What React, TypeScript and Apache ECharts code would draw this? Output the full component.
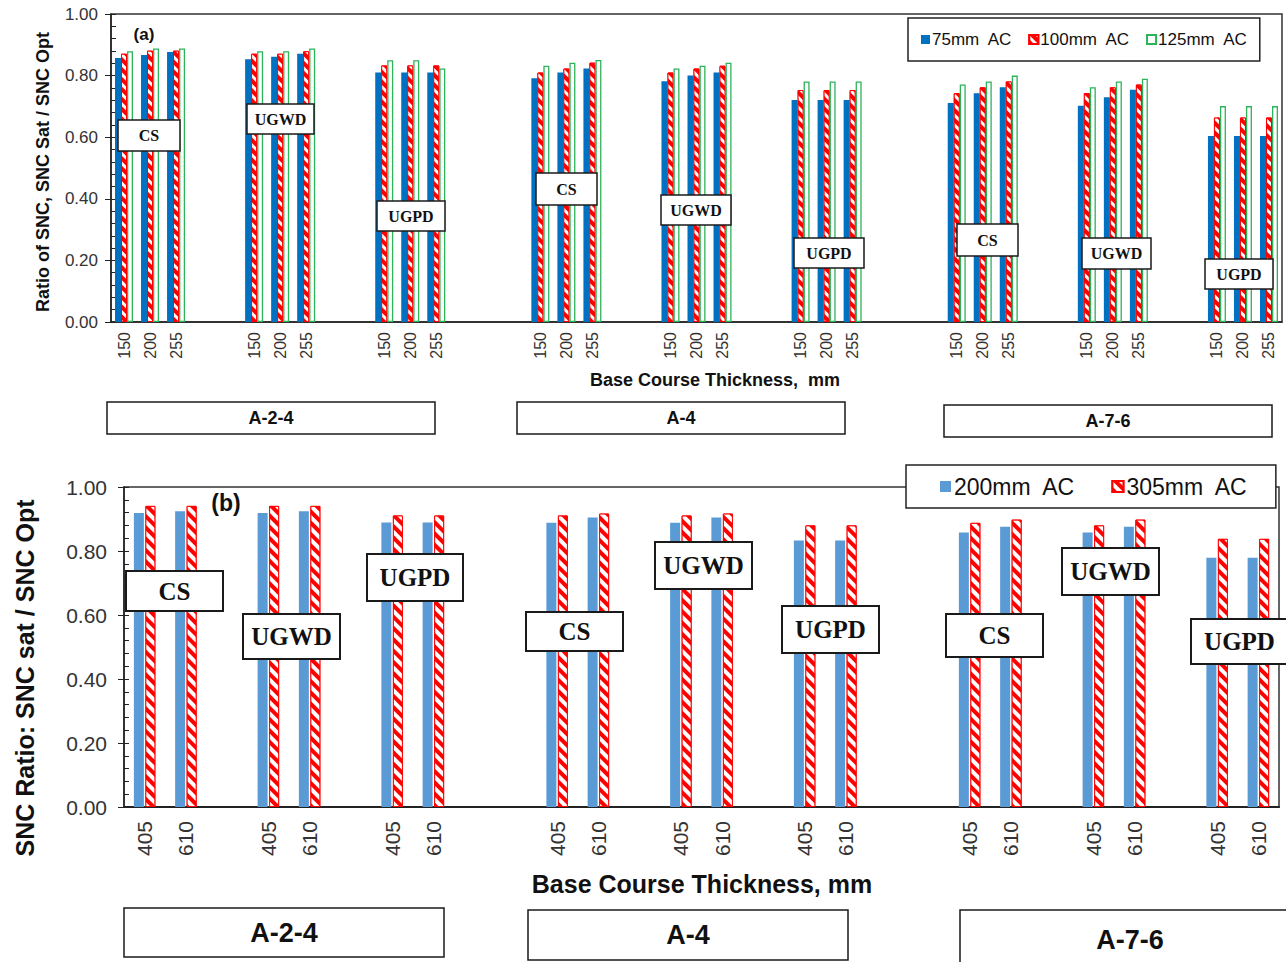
import { useEffect, useRef } from 'react';
import * as echarts from 'echarts';

// Subgrade soils and base materials, in drawing order
const soils = ['A-2-4', 'A-4', 'A-7-6'];
const bases = ['CS', 'UGWD', 'UGPD'];

// (a) base course thicknesses (mm) and SNC ratios per AC thickness
const thicknessTop = ['150', '200', '255'];
const ac75 = [
  0.857, 0.867, 0.877, 0.853, 0.861, 0.871, 0.81, 0.81, 0.81,
  0.791, 0.81, 0.823, 0.782, 0.8, 0.81, 0.721, 0.721, 0.721,
  0.711, 0.743, 0.762, 0.702, 0.73, 0.754, 0.604, 0.604, 0.604,
];
const ac100 = [
  0.871, 0.881, 0.881, 0.871, 0.871, 0.879, 0.833, 0.833, 0.833,
  0.81, 0.823, 0.842, 0.81, 0.823, 0.832, 0.753, 0.753, 0.753,
  0.743, 0.762, 0.781, 0.743, 0.762, 0.771, 0.664, 0.664, 0.664,
];
const ac125 = [
  0.879, 0.888, 0.888, 0.879, 0.879, 0.888, 0.85, 0.85, 0.823,
  0.832, 0.842, 0.851, 0.823, 0.832, 0.842, 0.781, 0.781, 0.781,
  0.771, 0.781, 0.8, 0.762, 0.781, 0.79, 0.701, 0.701, 0.701,
];
const legendTop = ['75mm  AC', '100mm  AC', '125mm  AC'];

// (b) base course thicknesses (mm) and SNC ratios per AC thickness
const thicknessBottom = ['405', '610'];
const ac200 = [
  0.919, 0.924, 0.919, 0.924, 0.889, 0.889,
  0.888, 0.905, 0.888, 0.905, 0.833, 0.833,
  0.858, 0.876, 0.858, 0.876, 0.779, 0.779,
];
const ac305 = [
  0.941, 0.941, 0.941, 0.941, 0.911, 0.911,
  0.911, 0.917, 0.911, 0.917, 0.88, 0.88,
  0.888, 0.898, 0.88, 0.898, 0.838, 0.838,
];
const legendBottom = ['200mm  AC', '305mm  AC'];

const SANS = 'Arial, "Liberation Sans", sans-serif';
const SERIF = '"Liberation Serif", "Times New Roman", serif';

// Category axis with empty slots between base groups and between soils
function buildAxis(ticks: string[], innerGap: number, outerGap: number) {
  const cats: string[] = [];
  const slots: number[] = [];
  soils.forEach((_, s) => {
    if (s > 0) for (let i = 0; i < outerGap; i++) cats.push('');
    bases.forEach((_, b) => {
      if (b > 0) for (let i = 0; i < innerGap; i++) cats.push('');
      ticks.forEach((t) => {
        slots.push(cats.length);
        cats.push(t);
      });
    });
  });
  return { cats, slots };
}

function spread(values: number[], axis: { cats: string[]; slots: number[] }) {
  const out: (number | string)[] = axis.cats.map(() => '-');
  axis.slots.forEach((c, i) => {
    out[c] = values[i];
  });
  return out;
}

function stripes(on: number, off: number) {
  return {
    symbol: 'rect',
    symbolSize: 1,
    color: '#ffffff',
    dashArrayX: [1, 0],
    dashArrayY: [on, off],
    rotation: Math.PI / 4,
  };
}

type FontSpec = { size: number; weight: string; family: string };

function box(x: number, y: number, w: number, h: number, text: string, f: FontSpec, lw = 1.5): any {
  return {
    type: 'group',
    x,
    y,
    children: [
      {
        type: 'rect', z: 100,
        shape: { x: 0, y: 0, width: w, height: h },
        style: { fill: '#fff', stroke: '#1a1a1a', lineWidth: lw },
      },
      {
        type: 'text', z: 101, x: w / 2, y: h / 2,
        style: {
          text, fontSize: f.size, fontWeight: f.weight, fontFamily: f.family,
          fill: '#111', align: 'center', verticalAlign: 'middle',
        },
      },
    ],
  };
}

function label(x: number, y: number, text: string, f: FontSpec, vertical = false): any {
  return {
    type: 'text', x, y, z: 100,
    rotation: vertical ? Math.PI / 2 : 0,
    style: {
      text, fontSize: f.size, fontWeight: f.weight, fontFamily: f.family,
      fill: '#111', align: 'center', verticalAlign: 'middle',
    },
  };
}

export default function App() {
  const ref = useRef<HTMLDivElement>(null);

  useEffect(() => {
    if (!ref.current) return;
    const chart = echarts.init(ref.current, undefined, { renderer: 'svg' });

    const axTop = buildAxis(thicknessTop, 2, 3);
    const axBot = buildAxis(thicknessBottom, 1, 2);

    const baseFontTop = { size: 16, weight: 'bold', family: SERIF };
    const baseFontBot = { size: 25, weight: 'bold', family: SERIF };

    const topBoxes = [
      [118, 120, 62, 31], [247, 104, 67, 30], [377, 201, 68, 30],
      [536, 173, 61, 32], [661, 195, 70, 30], [794, 238, 70, 30],
      [957, 224, 61, 32], [1082, 238, 69, 31], [1205, 259, 68, 30],
    ];
    const botBoxes = [
      [126, 571, 97, 40], [243, 614, 97, 45], [367, 554, 96, 47],
      [526, 612, 97, 39], [655, 542, 97, 47], [782, 606, 97, 47],
      [946, 614, 97, 43], [1062, 548, 97, 47], [1191, 619, 97, 45],
    ];

    const graphics: any[] = [];
    topBoxes.forEach((b, i) => graphics.push(box(b[0], b[1], b[2], b[3], bases[i % 3], baseFontTop)));
    botBoxes.forEach((b, i) => graphics.push(box(b[0], b[1], b[2], b[3], bases[i % 3], baseFontBot, 2)));

    // soil group boxes under each panel
    const soilTop = [[107, 402, 328, 32], [517, 402, 328, 32], [944, 405, 328, 32]];
    const soilBot = [[124, 908, 320, 49], [528, 910, 320, 50], [960, 910, 340, 60]];
    soilTop.forEach((b, i) =>
      graphics.push(box(b[0], b[1], b[2], b[3], soils[i], { size: 18, weight: 'bold', family: SANS })));
    soilBot.forEach((b, i) =>
      graphics.push(box(b[0], b[1], b[2], b[3], soils[i], { size: 27, weight: 'bold', family: SANS })));

    graphics.push(label(43, 172, 'Ratio of SNC, SNC Sat / SNC Opt', { size: 18, weight: 'bold', family: SANS }, true));
    graphics.push(label(25, 678, 'SNC Ratio: SNC sat / SNC Opt', { size: 25, weight: 'bold', family: SANS }, true));
    graphics.push(label(715, 380, 'Base Course Thickness,  mm', { size: 18, weight: 'bold', family: SANS }));
    graphics.push(label(702, 884, 'Base Course Thickness, mm', { size: 25, weight: 'bold', family: SANS }));
    graphics.push(label(144, 34, '(a)', { size: 17, weight: 'bold', family: SANS }));
    graphics.push(label(226, 503, '(b)', { size: 23, weight: 'bold', family: SANS }));

    const yAxisMain = (gridIndex: number, fontSize: number, margin: number) => ({
      type: 'value',
      gridIndex,
      min: 0,
      max: 1,
      interval: 0.2,
      axisLine: { show: true, lineStyle: { color: '#222', width: 1.5 } },
      axisTick: { show: true, length: 6, lineStyle: { color: '#222' } },
      splitLine: { show: false },
      axisLabel: {
        fontFamily: SANS,
        fontSize,
        color: '#333',
        margin,
        formatter: (v: number) => v.toFixed(2),
      },
    });

    // companion axis carrying only the small inward ticks
    const yAxisMinor = (gridIndex: number) => ({
      type: 'value',
      gridIndex,
      position: 'left',
      min: 0,
      max: 1,
      interval: 0.04,
      axisLine: { show: false },
      axisTick: { show: true, inside: true, length: 5, lineStyle: { color: '#222' } },
      axisLabel: { show: false },
      splitLine: { show: false },
    });

    const blue = '#0070C0';
    const blueLight = '#5B9BD5';
    const red = '#FF0000';
    const green = '#2DB35A';

    chart.setOption({
      animation: false,
      backgroundColor: '#fff',
      grid: [
        { left: 111, top: 14, width: 1171, height: 308, show: true, borderColor: '#333', borderWidth: 1.5, outerBoundsMode: 'none' },
        { left: 124, top: 487, width: 1155, height: 320, show: true, borderColor: '#333', borderWidth: 1.5, outerBoundsMode: 'none' },
      ],
      legend: [
        {
          data: legendTop,
          left: 908,
          top: 18,
          padding: [13, 12, 13, 13],
          itemWidth: 9,
          itemHeight: 9,
          itemGap: 16,
          borderColor: '#222',
          borderWidth: 1.5,
          backgroundColor: '#fff',
          icon: 'rect',
          selectedMode: false,
          textStyle: { fontFamily: SANS, fontSize: 17, color: '#111', padding: [0, 0, 0, -3] },
        },
        {
          data: legendBottom,
          left: 906,
          top: 465,
          padding: [10, 28, 10, 34],
          itemWidth: 11,
          itemHeight: 11,
          itemGap: 36,
          borderColor: '#222',
          borderWidth: 1.5,
          backgroundColor: '#fff',
          icon: 'rect',
          selectedMode: false,
          textStyle: { fontFamily: SANS, fontSize: 23, color: '#111', padding: [0, 0, 0, -2] },
        },
      ],
      xAxis: [
        {
          type: 'category',
          gridIndex: 0,
          data: axTop.cats,
          axisLine: { lineStyle: { color: '#222', width: 1.5 } },
          axisTick: { show: false },
          axisLabel: { interval: 0, rotate: 90, margin: 10, fontFamily: SANS, fontSize: 16, color: '#333' },
        },
        {
          type: 'category',
          gridIndex: 1,
          data: axBot.cats,
          axisLine: { lineStyle: { color: '#222', width: 2 } },
          axisTick: { show: false },
          axisLabel: { interval: 0, rotate: 90, margin: 14, fontFamily: SANS, fontSize: 21, color: '#333' },
        },
      ],
      yAxis: [
        yAxisMain(0, 17, 13),
        yAxisMain(1, 21, 17),
        yAxisMinor(0),
        yAxisMinor(1),
      ],
      series: [
        {
          name: legendTop[0], type: 'bar', xAxisIndex: 0, yAxisIndex: 0,
          barWidth: 6, barGap: '0%',
          itemStyle: { color: blue },
          data: spread(ac75, axTop),
        },
        {
          name: legendTop[1], type: 'bar', xAxisIndex: 0, yAxisIndex: 0,
          barWidth: 6, barGap: '0%',
          itemStyle: { color: red, borderColor: red, borderWidth: 1, decal: stripes(2.5, 3.5) },
          data: spread(ac100, axTop),
        },
        {
          name: legendTop[2], type: 'bar', xAxisIndex: 0, yAxisIndex: 0,
          barWidth: 6, barGap: '0%',
          itemStyle: { color: '#fff', borderColor: green, borderWidth: 1.3 },
          data: spread(ac125, axTop),
        },
        {
          name: legendBottom[0], type: 'bar', xAxisIndex: 1, yAxisIndex: 1,
          barWidth: 10, barGap: '15%',
          itemStyle: { color: blueLight },
          data: spread(ac200, axBot),
        },
        {
          name: legendBottom[1], type: 'bar', xAxisIndex: 1, yAxisIndex: 1,
          barWidth: 10, barGap: '15%',
          itemStyle: { color: red, borderColor: red, borderWidth: 1, decal: stripes(3.5, 4) },
          data: spread(ac305, axBot),
        },
      ],
      graphic: graphics,
    });

    return () => chart.dispose();
  }, []);

  return (
    <div
      ref={ref}
      style={{ position: 'fixed', left: 0, top: 0, width: 1286, height: 962, background: '#fff' }}
    />
  );
}
